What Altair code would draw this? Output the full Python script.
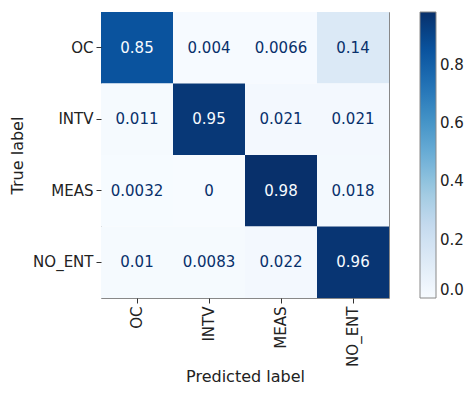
import altair as alt
import pandas as pd

classes = ["OC", "INTV", "MEAS", "NO_ENT"]
row_oc = [0.85, 0.004, 0.0066, 0.14]
row_intv = [0.011, 0.95, 0.021, 0.021]
row_meas = [0.0032, 0, 0.98, 0.018]
row_noent = [0.01, 0.0083, 0.022, 0.96]
matrix = [row_oc, row_intv, row_meas, row_noent]
legend_ticks = [0.0, 0.2, 0.4, 0.6, 0.8]
blues = ["#f7fbff", "#deebf7", "#c6dbef", "#9ecae1", "#6baed6",
         "#4292c6", "#2171b5", "#08519c", "#08306b"]

records = []
for i, t in enumerate(classes):
    for j, p in enumerate(classes):
        records.append({"true": t, "pred": p, "value": matrix[i][j]})
df = pd.DataFrame(records)

vmax = max(max(r) for r in matrix)
vmin = min(min(r) for r in matrix)
thresh = (vmax + vmin) / 2

FONT = "DejaVu Sans"

x_enc = alt.X("pred:N", sort=classes, title="Predicted label",
              scale=alt.Scale(paddingInner=0, paddingOuter=0),
              axis=alt.Axis(labelAngle=-90, labelFontSize=15, titleFontSize=16,
                            labelFont=FONT, titleFont=FONT, titleFontWeight="normal",
                            domain=False, tickSize=5, tickColor="#333",
                            labelColor="#222", titleColor="#222", labelPadding=3,
                            titlePadding=2, labelBaseline="middle", labelAlign="right"))
y_enc = alt.Y("true:N", sort=classes, title="True label",
              scale=alt.Scale(paddingInner=0, paddingOuter=0),
              axis=alt.Axis(labelFontSize=15, titleFontSize=16,
                            labelFont=FONT, titleFont=FONT, titleFontWeight="normal",
                            domain=False, tickSize=5, tickColor="#333",
                            labelColor="#222", titleColor="#222", labelPadding=3,
                            titlePadding=7))

rects = alt.Chart(df).mark_rect().encode(
    x=x_enc, y=y_enc,
    color=alt.Color("value:Q",
                    scale=alt.Scale(domain=[vmin, vmax], range=blues, interpolate="rgb"),
                    legend=alt.Legend(title=None, values=legend_ticks, format=".1f",
                                      gradientLength=286, gradientThickness=16,
                                      gradientStrokeColor="#888", gradientStrokeWidth=1,
                                      labelFontSize=15, labelFont=FONT, labelColor="#222",
                                      offset=31, labelOffset=4, direction="vertical",
                                      orient="right", padding=0)),
)

texts = alt.Chart(df).mark_text(font=FONT, fontSize=15).encode(
    x=alt.X("pred:N", sort=classes),
    y=alt.Y("true:N", sort=classes),
    text=alt.Text("value:Q", format=".2~g"),
    color=alt.condition(alt.datum.value > thresh, alt.value("#f7fbff"), alt.value("#08306b")),
)

chart = (rects + texts).properties(
    width=288, height=286,
    autosize=alt.AutoSizeParams(type="none"),
    padding={"left": 93, "top": 4, "right": 75, "bottom": 91},
).configure_view(stroke="#888", strokeWidth=1)

chart.save("out.html", embed_options={"renderer": "svg", "actions": False})
